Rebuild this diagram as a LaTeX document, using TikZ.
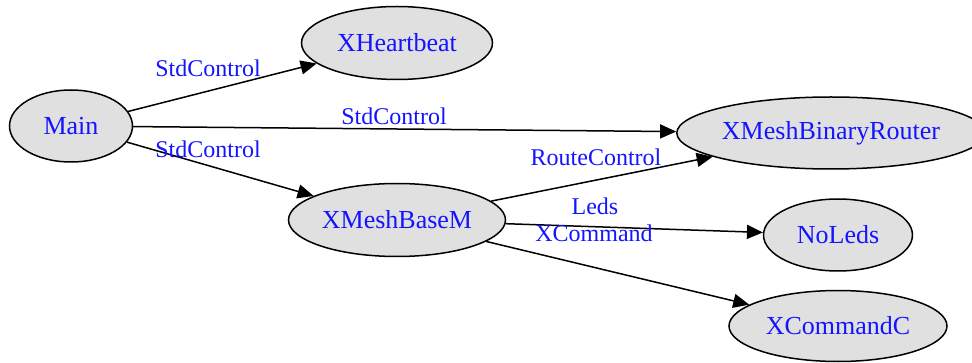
\documentclass[tikz,border=0pt]{standalone}
\usepackage{fontspec}
\setmainfont{Liberation Serif}
\usetikzlibrary{shapes.geometric,arrows.meta}
\definecolor{nodefill}{RGB}{224,224,224}
\definecolor{labelblue}{RGB}{20,20,255}
\begin{document}
\begin{tikzpicture}[x=1pt,y=-1pt,
  comp/.style={ellipse,draw=black,line width=1.5pt,fill=nodefill,inner sep=0pt,
    text=labelblue,font=\fontsize{26}{28}\selectfont},
  wire/.style={draw=black,line width=1.5pt,-{Triangle[length=16pt,width=14pt]}},
  elabel/.style={text=labelblue,font=\fontsize{24}{26}\selectfont,inner sep=0pt}]
\useasboundingbox (0,0) rectangle (972,363);
\node[comp,minimum width=123pt,minimum height=72pt] (main) at (71,126) {Main};
\node[comp,minimum width=191pt,minimum height=73pt] (hb) at (397,43) {XHeartbeat};
\node[comp,minimum width=276pt,minimum height=72pt] (router) at (831,133) {XMeshBinaryRouter};
\node[comp,minimum width=217pt,minimum height=73pt] (base) at (397,220) {XMeshBaseM};
\node[comp,minimum width=149pt,minimum height=72pt] (noleds) at (838,235) {NoLeds};
\node[comp,minimum width=218pt,minimum height=71pt] (cmd) at (838,326) {XCommandC};
\draw[wire] (main) -- (hb);
\draw[wire] (main) -- (router);
\draw[wire] (main) -- (base);
\draw[wire] (base) -- (router);
\draw[wire] (base) -- (noleds);
\draw[wire] (base) -- (cmd);
\node[elabel] (l1) at (208,68) {StdControl};
\node[elabel] (l2) at (394,116) {StdControl};
\node[elabel] (l3) at (208,149) {StdControl};
\node[elabel] (l4) at (596,157) {RouteControl};
\node[elabel] (l5) at (595,206) {Leds};
\node[elabel] (l6) at (594,233) {XCommand};
\end{tikzpicture}
\end{document}
